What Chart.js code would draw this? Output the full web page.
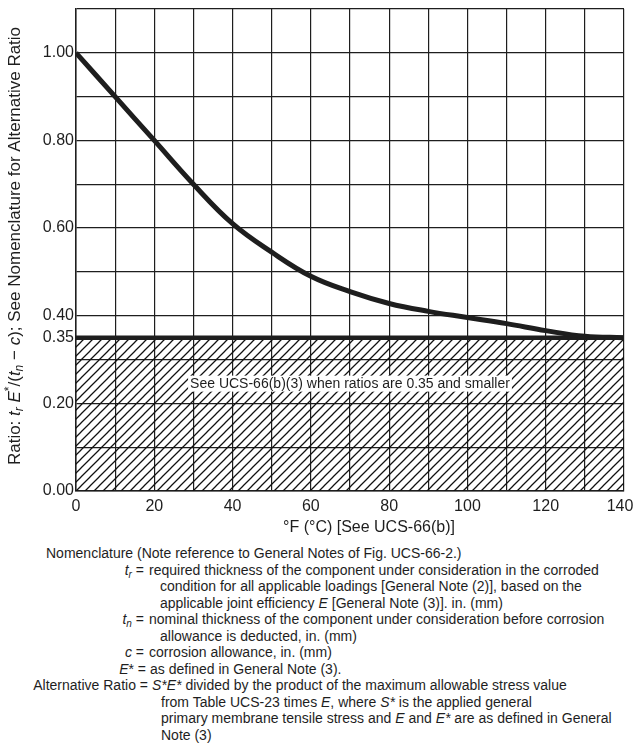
<!DOCTYPE html>
<html>
<head>
<meta charset="utf-8">
<script src="https://cdn.jsdelivr.net/npm/chart.js@4.4.1/dist/chart.umd.min.js"></script>
<style>
  body { margin: 0; background: #fff; width: 633px; height: 752px; overflow: hidden; position: relative;
         font-family: "Liberation Sans", Arial, sans-serif; color: #1e1e1e; }
  #wrap { position: absolute; left: 0; top: 0; width: 633px; height: 538px; }
  .ln { position: absolute; white-space: nowrap; font-size: 14px; line-height: 16px; }
  .lb { position: absolute; left: 0; width: 144px; text-align: right; white-space: nowrap; font-size: 14px; line-height: 16px; }
  sub { font-size: 10px; vertical-align: -3px; line-height: 0; }
</style>
</head>
<body>
<div id="wrap"><canvas id="ratioChart" width="633" height="538"></canvas></div>

<div class="ln" style="left:46px; top:545px;">Nomenclature (Note reference to General Notes of Fig. UCS-66-2.)</div>
<div class="lb" style="top:561.5px;"><i>t<sub>r</sub></i> =</div>
<div class="ln" style="left:149px; top:561.5px;">required thickness of the component under consideration in the corroded</div>
<div class="ln" style="left:160px; top:578px;">condition for all applicable loadings [General Note (2)], based on the</div>
<div class="ln" style="left:160px; top:594.5px;">applicable joint efficiency <i>E</i> [General Note (3)]. in. (mm)</div>
<div class="lb" style="top:611px;"><i>t<sub>n</sub></i> =</div>
<div class="ln" style="left:149px; top:611px;">nominal thickness of the component under consideration before corrosion</div>
<div class="ln" style="left:160px; top:627.5px;">allowance is deducted, in. (mm)</div>
<div class="lb" style="top:644px;"><i>c</i> =</div>
<div class="ln" style="left:149px; top:644px;">corrosion allowance, in. (mm)</div>
<div class="lb" style="top:660.5px; width:146px;"><i>E</i>* =</div>
<div class="ln" style="left:150px; top:660.5px;">as defined in General Note (3).</div>
<div class="lb" style="top:677px; width:148px;">Alternative Ratio =</div>
<div class="ln" style="left:152px; top:677px;"><i>S*E*</i> divided by the product of the maximum allowable stress value</div>
<div class="ln" style="left:161px; top:693.5px;">from Table UCS-23 times <i>E</i>, where <i>S*</i> is the applied general</div>
<div class="ln" style="left:161px; top:710px;">primary membrane tensile stress and <i>E</i> and <i>E*</i> are as defined in General</div>
<div class="ln" style="left:161px; top:726.5px;">Note (3)</div>

<script>
// curve: ratio vs temperature reduction
const tempF = [0, 10, 20, 30, 40, 50, 60, 70, 80, 90, 100, 110, 120, 130, 140];
const ratio = [1.00, 0.90, 0.80, 0.70, 0.61, 0.545, 0.49, 0.455, 0.428, 0.41, 0.396, 0.382, 0.366, 0.353, 0.35];

// hatched zone (ratios 0.35 and smaller)
const limitX = [0, 140];
const limitY = [0.35, 0.35];

// grid lines and labelled ticks
const yGrid = [0, 0.1, 0.2, 0.3, 0.35, 0.4, 0.5, 0.6, 0.7, 0.8, 0.9, 1.0, 1.1];
const yLabelled = [0, 0.2, 0.35, 0.4, 0.6, 0.8, 1.0];
const xLabelled = [0, 20, 40, 60, 80, 100, 120, 140];

const noteText = 'See UCS-66(b)(3) when ratios are 0.35 and smaller';
const noteX = 70;
const noteY = 0.245;
const xTitle = '\u00B0F (\u00B0C) [See UCS-66(b)]';

const FONT = '"Liberation Sans", Arial, sans-serif';
const INK = '#1e1e1e';

// y title pieces: [text, style]
const yTitleParts = [
    ['Ratio: ', ''], ['t', 'i'], ['r', 'isub'], [' E', 'i'], ['*', 'sup'], ['/(', ''],
    ['t', 'i'], ['n', 'isub'], [' \u2212 ', ''], ['c', 'i'],
    ['); See Nomenclature for Alternative Ratio', '']
];

function makeHatch() {
    const s = 9;
    const pc = document.createElement('canvas');
    pc.width = s; pc.height = s;
    const p = pc.getContext('2d');
    p.strokeStyle = '#111';
    p.lineWidth = 1.25;
    p.beginPath();
    p.moveTo(0, s); p.lineTo(s, 0);
    p.moveTo(-1, 1); p.lineTo(1, -1);
    p.moveTo(s - 1, s + 1); p.lineTo(s + 1, s - 1);
    p.stroke();
    return document.getElementById('ratioChart').getContext('2d').createPattern(pc, 'repeat');
}

function partFont(style, size) {
    const small = style.includes('sub') || style === 'sup';
    const sz = small ? Math.round(size * 0.7) : size;
    return (style.startsWith('i') ? 'italic ' : '') + sz + 'px ' + FONT;
}

function drawRich(ctx, parts, size, cx, cy) {
    let total = 0;
    parts.forEach(([t, st]) => { ctx.font = partFont(st, size); total += ctx.measureText(t).width; });
    let xPos = cx - total / 2;
    parts.forEach(([t, st]) => {
        ctx.font = partFont(st, size);
        let dy = 0;
        if (st.includes('sub')) dy = size * 0.25;
        if (st === 'sup') dy = -size * 0.3;
        ctx.fillText(t, xPos, cy + dy);
        xPos += ctx.measureText(t).width;
    });
}

const textPlugin = {
    id: 'extraText',
    afterDatasetsDraw(chart) {
        const { ctx, scales: { x, y } } = chart;
        ctx.save();
        ctx.font = '14px ' + FONT;
        const w = ctx.measureText(noteText).width;
        const px = x.getPixelForValue(noteX);
        const py = y.getPixelForValue(noteY);
        ctx.fillStyle = '#fff';
        ctx.fillRect(px - w / 2 - 2, py - 8, w + 4, 16);
        ctx.fillStyle = INK;
        ctx.textAlign = 'center';
        ctx.textBaseline = 'middle';
        ctx.fillText(noteText, px, py);
        ctx.restore();
    },
    afterDraw(chart) {
        const ctx = chart.ctx;
        ctx.save();
        ctx.fillStyle = INK;
        ctx.textBaseline = 'middle';
        // x axis title
        ctx.font = '16px ' + FONT;
        ctx.textAlign = 'center';
        ctx.fillText(xTitle, 369, 528);
        // y axis title, rotated
        ctx.translate(15, 246);
        ctx.rotate(-Math.PI / 2);
        ctx.textAlign = 'left';
        drawRich(ctx, yTitleParts, 17, 0, 0);
        ctx.restore();
    }
};

const chart = new Chart(document.getElementById('ratioChart'), {
    type: 'line',
    data: {
        datasets: [
            {
                data: tempF.map((t, i) => ({ x: t, y: ratio[i] })),
                borderColor: INK,
                borderWidth: 5,
                pointRadius: 0,
                tension: 0.4,
                fill: false
            },
            {
                data: limitX.map((t, i) => ({ x: t, y: limitY[i] })),
                borderColor: INK,
                borderWidth: 4.5,
                pointRadius: 0,
                fill: 'origin',
                backgroundColor: makeHatch()
            }
        ]
    },
    options: {
        responsive: false,
        animation: false,
        layout: { padding: { top: 9, right: 9, left: 0, bottom: 0 } },
        plugins: {
            legend: { display: false },
            tooltip: { enabled: false }
        },
        scales: {
            x: {
                type: 'linear',
                min: 0,
                max: 140,
                border: { display: true, color: INK, width: 1.5 },
                grid: { color: '#1e1e1e', lineWidth: 1.2, drawTicks: false },
                ticks: {
                    stepSize: 10,
                    autoSkip: false,
                    maxRotation: 0,
                    padding: 6,
                    color: INK,
                    font: { size: 16, family: FONT },
                    // last label sits a little left of the frame edge
                    callback: v => xLabelled.includes(v) ? (v === 140 ? '140\u2002' : String(v)) : ''
                },
                afterFit: s => { s.height = 47; s.paddingLeft = 0; s.paddingRight = 0; }
            },
            y: {
                min: 0,
                max: 1.1,
                border: { display: true, color: INK, width: 1.5 },
                grid: { color: '#1e1e1e', lineWidth: 1.2, drawTicks: false },
                afterBuildTicks: s => { s.ticks = yGrid.map(v => ({ value: v })); },
                ticks: {
                    autoSkip: false,
                    padding: 2,
                    color: INK,
                    font: { size: 16, family: FONT },
                    callback: v => yLabelled.some(l => Math.abs(l - v) < 1e-6) ? v.toFixed(2) : ''
                },
                afterFit: s => { s.width = 76; s.paddingTop = 0; s.paddingBottom = 0; }
            }
        }
    },
    plugins: [textPlugin]
});
</script>
</body>
</html>
